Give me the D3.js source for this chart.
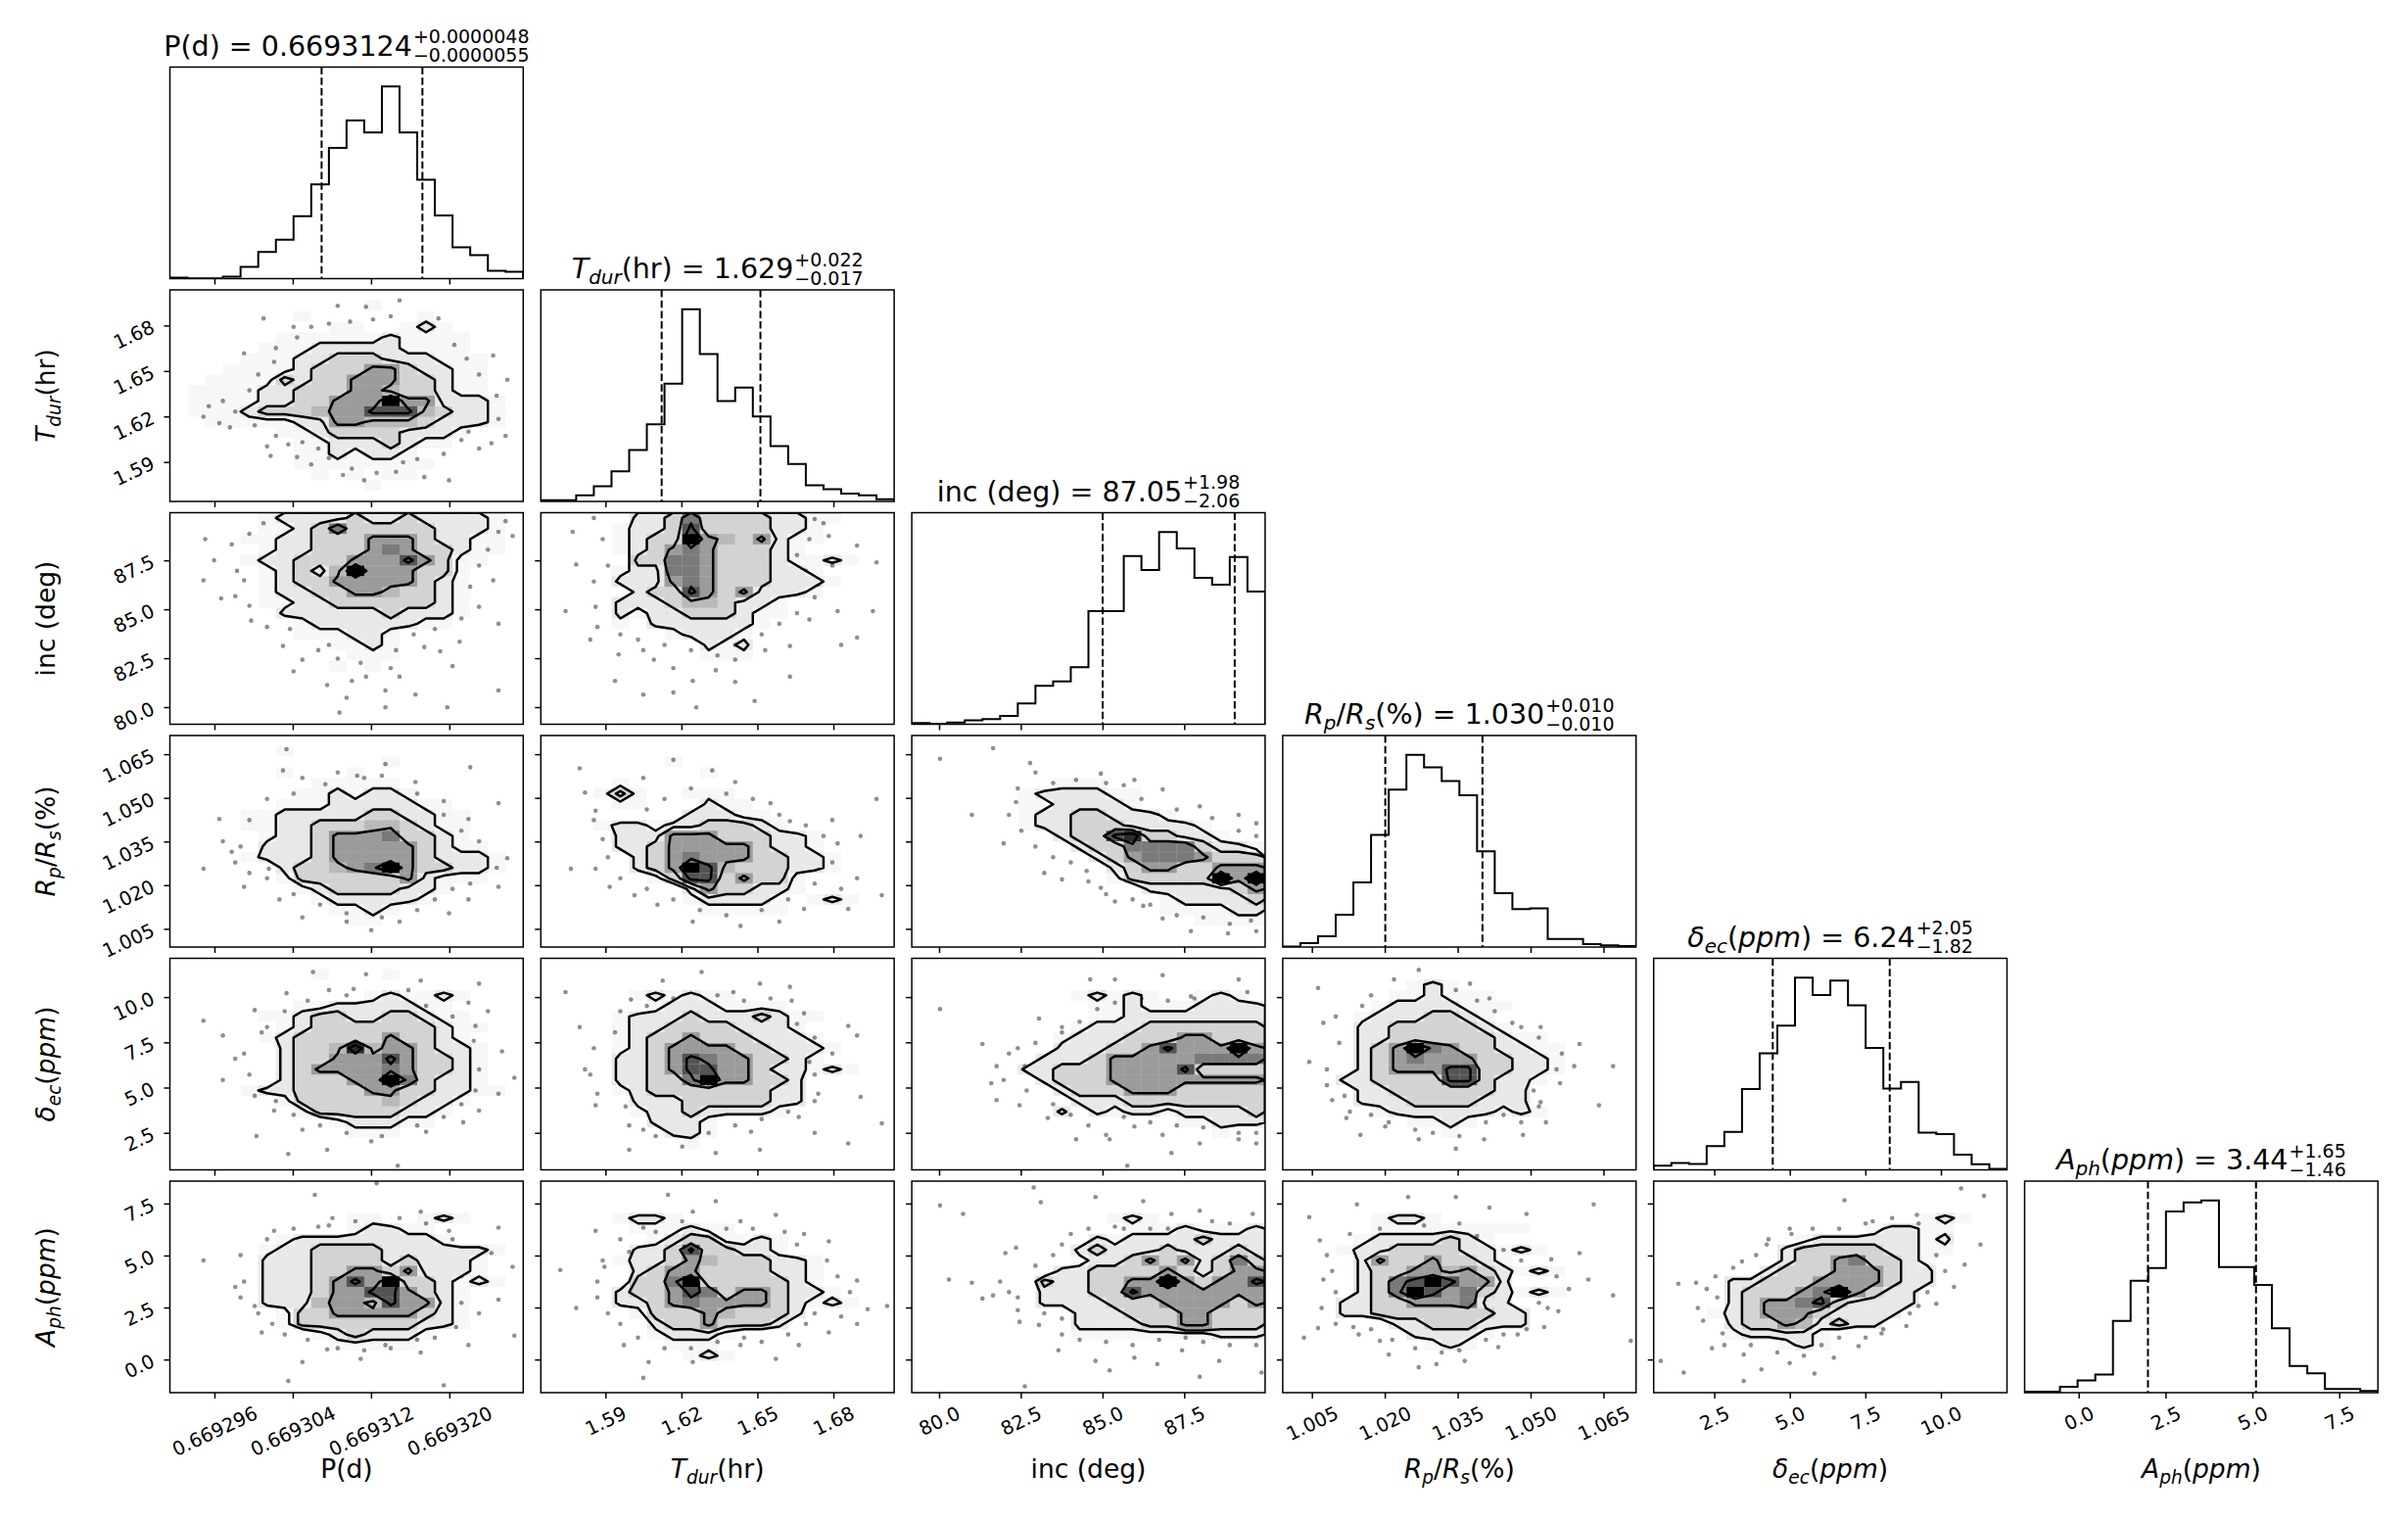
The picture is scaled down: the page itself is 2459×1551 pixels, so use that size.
<!DOCTYPE html>
<html><head><meta charset="utf-8">
<script src="https://cdn.jsdelivr.net/npm/d3@7"></script>
<style>html,body{margin:0;padding:0;background:#fff}svg{display:block}</style>
</head><body>
<svg id="chart" width="2459" height="1551"></svg>
<script>
// ---------------- DATA ----------------
const paramNames = ["P(d)", "Tdur(hr)", "inc (deg)", "Rp/Rs(%)", "dec(ppm)", "Aph(ppm)"];
const axisRanges = [[0.6692914, 0.6693275], [1.5643, 1.7038], [79.15, 89.96], [0.9989, 1.0716], [0.48, 12.17], [-1.57, 8.60]];
const tickValues = [
  [0.669296, 0.669304, 0.669312, 0.669320],
  [1.59, 1.62, 1.65, 1.68],
  [80.0, 82.5, 85.0, 87.5],
  [1.005, 1.020, 1.035, 1.050, 1.065],
  [2.5, 5.0, 7.5, 10.0],
  [0.0, 2.5, 5.0, 7.5]
];
const tickLabels = [
  ["0.669296", "0.669304", "0.669312", "0.669320"],
  ["1.59", "1.62", "1.65", "1.68"],
  ["80.0", "82.5", "85.0", "87.5"],
  ["1.005", "1.020", "1.035", "1.050", "1.065"],
  ["2.5", "5.0", "7.5", "10.0"],
  ["0.0", "2.5", "5.0", "7.5"]
];
const medians = [0.6693124, 1.629, 87.05, 1.030, 6.24, 3.44];
const errPlus = [0.0000048, 0.022, 1.98, 0.010, 2.05, 1.65];
const errMinus = [0.0000055, 0.017, 2.06, 0.010, 1.82, 1.46];
const medianText = ["0.6693124", "1.629", "87.05", "1.030", "6.24", "3.44"];
const plusText = ["+0.0000048", "+0.022", "+1.98", "+0.010", "+2.05", "+1.65"];
const minusText = ["\u22120.0000055", "\u22120.017", "\u22122.06", "\u22120.010", "\u22121.82", "\u22121.46"];

// label pieces: n = upright, i = italic, s = italic subscript
const labelP = [["P(d)", "n"]];
const labelTdur = [["T", "i"], ["dur", "s"], ["(hr)", "n"]];
const labelInc = [["inc (deg)", "n"]];
const labelRp = [["R", "i"], ["p", "s"], ["/", "n"], ["R", "i"], ["s", "s"], ["(%)", "n"]];
const labelDec = [["\u03b4", "i"], ["ec", "s"], ["(", "n"], ["ppm", "i"], [")", "n"]];
const labelAph = [["A", "i"], ["ph", "s"], ["(", "n"], ["ppm", "i"], [")", "n"]];

// 1-D histograms (20 bins over each axis range)
const histP = [3,1,1,6,36,82,120,192,290,402,486,449,591,449,304,194,96,72,24,21];
const histTdur = [3,3,14,35,69,118,177,270,441,338,230,261,195,127,86,37,28,18,14,5];
const histInc = [3,1,4,9,12,19,48,89,99,132,262,262,389,357,445,407,339,323,387,307];
const histRp = [1,9,25,75,150,260,365,446,417,385,352,222,125,88,90,19,19,7,4,2];
const histDec = [13,21,18,73,117,248,358,443,591,537,582,506,375,250,270,114,110,47,17,3];
const histAph = [3,3,18,37,55,218,340,379,551,579,585,382,382,328,196,81,59,11,11,5];

// 2-D densities: 20x20 bins, first string = top row (highest y), values 0..9 relative to the panel peak
const density_Tdur_P = [
"00000000000000000000","00000000000100000000","00000001000000100000","00000000011001210000",
"00000011111121111000","00000111222221111000","00001112233322211100","00011112333553221100",
"00111132335553321100","01111223335543321100","01111223355595522210","01112333455777432210",
"00111112255444322210","00000011233332221000","00000001122232110000","00000001121221000000",
"00000001111111100000","00000000101011000000","00000000000100000000","00000000000000000000"];
const density_inc_P = [
"00000122223223222210","00000112363333322210","00001122333555322110","00000122333565332110",
"00001223335557531100","00000123249555331000","00000123355555321000","00000122335543321000",
"00000112233333321000","00000022222232221000","00000001222222110000","00000001112210000000",
"00000000011210000000","00000000001110000000","00000000010100000000","00000000000000000000",
"00000000000000000000","00000000000000000000","00000000000000000000","00000000000000000000"];
const density_inc_Tdur = [
"00000223633332211000","00001223733332210000","00001233954352110000","00001235653332100000",
"00000336653332112100","00001226653332210000","00002225653332221000","00000233753522210000",
"00002223443221000000","00002122333211000000","00001022222210000000","00000001222100000000",
"00000000021200000000","00000000011100000000","00000000000000000000","00000000000000000000",
"00000000000000000000","00000000000000000000","00000000000000000000","00000000000000000000"];
const density_Rp_P = [
"00000000000000000000","00000010000000000000","00000000000010000000","00000010001000000000",
"00000000111110000000","00000001121221000000","00000011122222110000","00001122222332211000",
"00001122333443211000","00000122355563321000","00000222355555321100","00001222355555322210",
"00000023345695332210","00000013333335211100","00000001233332210000","00000000122222100000",
"00000000011210000000","00000000001100000000","00000000000000000000","00000000000000000000"];
const density_Rp_Tdur = [
"00000000000000000000","00000000000000000000","00000001000000000000","00000000010000000000",
"00001000000000000000","00013100111000000000","00001100021100000000","00000000222110000000",
"00012212233321000000","00002225553332210000","00002235555532210000","00000235655533221000",
"00000235974333221000","00000013773533100000","00000000253322100000","00000000122221012100",
"00000000011111000000","00000000000000000000","00000000000000000000","00000000000000000000"];
const density_Rp_inc = [
"00000000000000000000","00000000000000000000","00000000000000000000","00000000000000000000",
"00000000111000000000","00000012222110000000","00000011222210000000","00000012233222100000",
"00000012233322221000","00000000233783322100","00000000023366663221","00000000002356665333",
"00000000000235533555","00000000000133333959","00000000000002222235","00000000000000122223",
"00000000000000111122","00000000000000001111","00000000000000000000","00000000000000000000"];
const density_dec_P = [
"00000000000000000000","00000000100010000000","00000000000000000000","00000000000121121000",
"00000001122222110000","00000112332233211000","00000012333333321100","00000123333353321000",
"00000023348455322100","00000023355575332100","00000023555565332100","00000023335596322100",
"00001223333553322110","00000013333343221000","00000001333332210000","00000000012221100000",
"00000000001110000000","00000000000000000000","00000000000000000000","00000000000000000000"];
const density_dec_Tdur = [
"00000000000000000000","00000000000000000000","00000000000000000000","00000121211000000000",
"00000012221111000000","00001222322232110000","00001223333222100000","00001233533322210000",
"00001235555332221000","00002235765533210000","00002235775532212100","00002233695533200000",
"00001233333332200000","00000222333332200000","00000122322221000000","00000022210000000000",
"00000002210000000000","00000000100000000000","00000000000000000000","00000000000000000000"];
const density_dec_inc = [
"00000000000000000000","00000000000000000000","00000000000000000000","00000000012121001210",
"00000000001121112222","00000000001122222222","00000000012223333333","00000000122233355333",
"00000000222335755595","00000002223555556666","00000022333555573333","00000002333555555555",
"00000000233355533333","00000000022233333333","00000000202122122223","00000000000000011222",
"00000000000000000100","00000000000000000000","00000000000000000000","00000000000000000000"];
const density_dec_Rp = [
"00000000000000000000","00000000000000000000","00000001210000000000","00000011211100000000",
"00000122221110000000","00001222332100000000","00002233333210000000","00002233333321100000",
"00002359653322110000","00002356555332210000","00002355577332210000","00022333377322100000",
"00002233333322000000","00002223333222000000","00000122222212100000","00000001121000000000",
"00000000010000000000","00000000000000000000","00000000000000000000","00000000000000000000"];
const density_Aph_P = [
"00000000000000000000","00000000000000000000","00000000000000000000","00000000001100121000",
"00000000001221100000","00000012222222210000","00000122333322222210","00000222333323222100",
"00000222335535222100","00000222357593321210","00000222355775321000","00000222455475521000",
"00000013355555321000","00000013333333221000","00000000123222100000","00000000011111000000",
"00000000000000000000","00000000000000000000","00000000000000000000","00000000000000000000"];
const density_Aph_Tdur = [
"00000000000000000000","00000000000000000000","00000000000000000000","00001221000000000000",
"00000111211000000000","00000012331121000000","00000223733221000000","00001223543332210000",
"00000235533332210000","00000336933333210000","00002335763553221000","00002235655553212100",
"00000133354333200000","00000023353332000000","00000012221000000000","00000001110000000000",
"00000000121000000000","00000000000000000000","00000000000000000000","00000000000000000000"];
const density_Aph_inc = [
"00000000000000000000","00000000000000000000","00000000000000000000","00000000000121000000",
"00000000000011121112","00000000002122223222","00000000023222322232","00000000012235352363",
"00000000223333532355","00000003223355953557","00000002223375555555","00000002222333555535",
"00000000022233355333","00000000022223355333","00000000011111111222","00000000000000000000",
"00000000000000000000","00000000000000000000","00000000000000000000","00000000000000000000"];
const density_Aph_Rp = [
"00000000000000000000","00000000000000000000","00000000000000000000","00000122100000000000",
"00000111111111000000","00001222232100000000","00012233332212100000","00002533533210000000",
"00002335545321210000","00002367975520000000","00002369756321210000","00022335556220000000",
"00022333333322000000","00000022333222000000","00000002222100000000","00000000121000000000",
"00000000000000000000","00000000000000000000","00000000000000000000","00000000000000000000"];
const density_Aph_dec = [
"00000000000000000000","00000000000000000000","00000000000000000000","00000000000000012100",
"00000000000012211000","00000000122222212000","00000002333332211000","00000002335633210000",
"00000023335553220000","00002233355553220000","00002333569532200000","00002355673222200000",
"00012355532222000000","00002335423220000000","00001222210000000000","00000001210000000000",
"00000000000000000000","00000000000000000000","00000000000000000000","00000000000000000000"];

// isolated samples outside the contours, in bin coordinates (x from left, y from top, 0..20)
const dots_Tdur_P = "1.9,12.0 2.8,12.6 3.7,11.5 4.2,6.0 5.9,6.8 5.3,2.7 7.5,14.4 8.4,15.0 9.0,15.9 10.3,16.9 11.7,17.3 14.4,17.7 15.8,18.0 16.9,13.4 18.6,12.2 19.1,8.5 18.3,6.2 16.1,5.2 15.2,2.7 11.1,1.6 13.0,1.0 5.7,15.7 6.7,14.6 4.8,12.8 17.5,15.0 13.2,16.3 9.5,1.5 7.0,3.5 3.0,10.5 2.2,11.0 3.4,13.0 4.5,9.5 5.0,8.0 6.0,5.5 7.2,4.5 8.0,3.5 9.0,3.2 10.2,3.0 11.5,2.8 12.5,2.5 16.8,6.5 17.5,8.0 18.5,10.0 19.0,13.8 18.2,14.5 16.5,14.2 15.5,15.5 14.0,16.0 12.8,17.2 11.0,18.0 9.8,17.5 8.0,16.5 7.2,15.8 6.0,13.8 5.5,14.8 17.0,11.8";
const dots_inc_P = "1.9,6.4 3.7,7.9 4.2,6.4 2.9,8.1 5.3,1.0 18.6,1.8 19.4,2.2 18.3,6.4 17.5,8.9 18.6,10.5 16.4,12.2 15.3,13.1 14.4,12.7 12.5,14.7 11.1,15.5 10.3,15.9 8.4,13.0 7.5,13.9 6.4,12.6 12.2,16.8 13.9,17.2 8.9,16.3 15.7,18.4 12.2,18.4 18.6,16.8 4.6,10.2 9.6,18.9 2.5,4.5 3.5,3.0 4.5,2.0 3.8,5.5 4.5,8.8 5.5,10.8 6.8,11.0 9.0,12.5 9.5,13.8 10.8,14.2 12.8,13.0 13.8,11.5 15.0,11.0 16.5,10.0 17.0,7.0 17.5,5.0 18.0,3.5 16.8,2.5 19.0,0.8 2.0,2.5 7.0,15.0 13.0,15.5 16.0,14.5 10.0,17.5";
const dots_inc_Tdur = "1.8,1.8 2.0,4.9 1.4,9.3 3.1,8.9 4.4,13.4 5.8,13.0 6.4,13.9 7.5,14.7 8.6,15.9 9.9,14.9 11.0,13.9 12.7,13.0 14.1,12.6 15.2,10.1 16.8,9.3 17.9,11.8 18.8,9.3 19.0,4.7 17.9,3.1 16.3,2.2 15.5,0.6 15.7,6.8 8.8,18.4 12.1,17.8 14.1,15.5 4.2,15.9 5.8,17.2 3.5,2.5 3.8,5.0 3.0,6.5 3.2,10.8 2.8,12.0 4.5,11.5 5.5,12.0 7.0,12.5 8.5,13.0 10.0,13.5 11.0,12.5 12.5,11.5 13.5,10.5 14.5,9.5 15.5,8.0 15.0,5.5 14.5,4.0 15.2,2.5 16.0,1.0 3.0,0.5 16.5,5.0 17.0,12.5 7.5,17.0 11.0,16.0";
const dots_Rp_P = "1.9,12.6 2.8,7.9 3.7,12.0 5.6,12.6 6.4,3.3 6.6,1.3 8.8,4.6 10.6,3.8 12.2,2.7 13.9,4.4 15.5,6.2 16.9,7.9 18.6,6.4 19.1,11.6 18.6,14.3 16.9,15.5 15.8,16.8 13.0,17.6 11.4,18.4 10.0,17.6 7.5,17.2 6.2,15.5 4.2,14.3 3.0,10.0 17.0,3.0 4.0,10.5 4.5,8.0 5.5,6.0 7.0,5.5 7.5,4.0 9.5,3.5 11.0,4.0 12.0,3.8 14.0,5.5 15.5,7.5 16.5,9.0 17.5,10.0 18.5,12.5 17.0,14.0 16.0,14.5 15.0,15.5 14.0,16.5 12.0,17.2 10.0,16.8 8.5,16.0 7.0,15.0 5.5,13.5 4.5,13.0 3.5,11.0";
const dots_Rp_Tdur = "2.2,3.1 2.5,5.4 3.1,7.1 5.8,4.0 7.5,2.3 9.7,3.3 11.0,4.4 13.0,6.4 14.1,8.1 16.8,10.2 18.1,9.5 17.9,13.5 19.3,15.1 17.4,16.4 14.9,16.4 13.5,17.6 11.3,18.0 8.6,17.6 6.6,16.0 5.3,15.1 3.1,12.6 1.7,12.6 3.9,14.3 19.0,6.0 3.0,8.0 3.5,9.8 3.8,11.5 4.5,13.5 6.0,14.5 7.5,15.5 9.0,16.5 10.5,17.0 12.5,16.5 14.0,15.5 15.5,14.0 16.5,12.0 16.0,9.5 15.0,8.5 13.5,7.5 12.0,6.0 10.5,5.5 8.5,5.0 7.0,6.0 6.0,7.0 16.5,8.0 17.0,14.5";
const dots_Rp_inc = "1.6,2.2 3.4,7.5 4.6,1.2 5.2,10.2 5.9,6.3 6.7,2.6 7.5,13.0 8.5,13.6 9.9,12.8 10.7,14.4 11.5,15.7 13.1,16.1 14.2,17.3 15.8,18.5 17.9,18.7 19.5,18.5 9.3,4.2 10.7,3.6 12.0,4.7 14.2,5.1 16.3,6.7 18.5,7.5 19.5,8.3 12.6,4.2 6.0,5.0 5.5,7.5 6.2,9.0 7.0,10.5 8.0,11.5 9.0,12.0 10.0,13.8 11.0,15.0 12.5,15.5 13.5,16.0 15.0,17.0 16.5,17.2 18.0,17.8 19.2,17.5 8.0,4.5 11.0,4.5 13.0,6.0 15.0,7.0 17.0,7.8 18.5,9.0 19.5,9.5 7.0,3.5";
const dots_dec_P = "1.9,5.9 3.0,7.3 3.7,9.5 4.8,4.9 5.5,6.5 5.9,14.4 4.9,16.8 6.7,18.5 8.9,18.1 11.4,17.3 12.9,19.6 14.5,16.4 16.6,15.5 17.5,14.4 18.6,12.8 19.5,11.3 18.8,8.8 17.3,6.4 16.9,4.2 17.5,2.4 14.2,2.1 11.1,1.5 8.1,1.3 6.6,3.3 7.5,16.2 10.4,2.9 4.5,11.0 4.8,13.0 4.2,9.0 5.2,7.0 6.5,5.0 7.8,4.0 9.0,3.0 10.0,3.5 13.5,3.0 14.5,4.5 16.0,5.5 17.2,7.8 17.5,10.5 17.3,12.5 16.5,13.8 15.5,15.0 14.0,15.8 12.0,16.8 10.0,16.5 8.5,15.8 7.0,14.8 6.0,13.5 18.0,5.0 3.0,11.5";
const dots_dec_Tdur = "1.4,3.2 2.2,6.5 2.5,10.5 3.1,13.9 5.1,3.9 6.9,2.1 9.1,1.3 10.9,3.2 12.4,2.4 14.1,2.7 14.9,5.2 17.4,6.4 17.9,7.3 18.1,13.1 19.3,15.6 17.4,17.5 15.5,16.5 12.4,18.1 9.9,18.4 5.8,16.2 5.0,18.1 14.6,15.0 11.9,16.4 15.7,12.8 3.0,8.5 2.8,11.0 3.2,12.8 4.8,14.0 5.0,15.8 6.5,16.8 8.0,17.8 9.5,16.5 11.0,15.8 12.5,15.2 14.0,14.5 15.5,13.5 15.5,11.0 15.2,9.8 16.5,9.0 15.5,7.5 14.5,6.2 14.2,4.0 13.0,3.8 11.5,4.0 10.0,3.5 7.5,3.8 6.0,4.5 4.5,5.0 4.2,7.0";
const dots_dec_inc = "1.6,4.8 4.0,8.1 4.8,13.4 6.1,13.9 7.2,5.7 8.5,6.5 7.7,15.1 9.3,17.1 11.0,16.7 12.6,15.9 14.2,16.7 14.7,18.4 16.3,17.5 18.5,17.1 19.5,17.5 11.5,2.0 14.2,1.6 15.8,3.6 18.5,2.0 11.2,17.1 6.4,10.2 4.5,11.8 12.2,19.6 10.1,2.0 5.5,9.0 6.0,8.5 7.0,8.0 8.5,7.0 9.5,6.0 10.5,4.8 11.5,4.2 13.0,3.8 14.5,4.0 16.0,3.8 17.5,3.5 19.0,3.2 19.5,16.5 18.5,16.5 16.5,16.0 15.0,15.8 13.5,15.5 12.0,15.0 10.0,15.8 9.0,14.8 8.0,13.8 6.5,12.5 5.2,11.5 4.8,10.2";
const dots_dec_Rp = "2.0,2.8 1.5,9.8 2.3,6.1 2.8,13.4 3.6,15.1 4.4,16.7 6.3,2.0 7.7,1.1 10.6,2.4 11.7,3.8 13.0,6.1 14.6,6.5 16.8,8.1 16.5,10.2 15.7,11.8 14.6,13.6 14.9,15.5 13.6,16.7 11.4,17.1 9.8,18.0 7.7,17.1 5.8,15.9 18.7,10.2 17.9,13.9 3.0,5.5 3.2,8.0 2.5,10.5 2.5,12.0 3.5,13.0 3.8,14.5 5.0,14.8 6.0,15.5 7.5,16.2 8.5,16.5 10.0,16.8 11.5,15.5 12.5,14.8 13.5,15.5 14.5,14.0 14.2,12.5 15.5,10.5 15.8,9.0 14.5,7.5 13.5,6.5 12.0,5.0 11.0,4.0 9.8,3.0 5.0,3.5 4.5,4.5";
const dots_Aph_P = "1.9,7.5 3.7,10.0 4.8,11.8 5.9,4.7 8.4,4.3 8.2,1.3 9.2,3.5 11.7,0.2 14.2,2.9 15.8,4.7 18.6,4.4 19.4,8.1 18.6,11.2 17.5,12.5 19.5,14.6 16.9,15.5 14.2,16.2 12.2,15.5 10.8,16.8 8.9,15.9 6.7,18.9 15.5,19.3 5.2,14.3 7.5,17.1 4.0,7.0 4.2,9.5 4.0,11.0 5.0,12.5 5.8,13.5 6.5,14.5 7.8,15.0 9.5,15.8 11.0,16.0 12.5,15.8 14.0,15.0 15.0,14.8 16.2,13.8 16.5,11.5 16.5,9.0 17.0,7.5 18.2,6.8 16.0,5.5 14.5,4.0 13.0,3.5 10.5,3.8 9.0,4.2 7.0,4.5 5.5,5.5";
const dots_Aph_Tdur = "1.1,8.4 2.0,12.0 3.1,4.7 3.6,8.1 5.0,6.7 5.8,4.4 7.2,1.3 8.6,2.9 9.9,1.9 11.3,3.8 13.3,3.2 14.9,5.0 16.3,5.7 17.9,9.4 18.5,12.1 17.9,13.5 16.3,14.3 14.6,15.5 13.3,16.8 11.3,15.5 8.6,17.1 6.1,17.1 4.7,15.5 5.8,18.6 19.6,11.8 3.5,7.5 3.2,9.5 3.2,11.0 3.8,12.5 4.5,13.5 5.5,14.8 7.0,15.8 8.5,15.8 10.0,15.2 11.5,14.8 12.5,15.2 14.0,14.5 15.0,13.5 15.5,12.5 17.0,12.8 17.5,10.5 16.8,9.0 16.2,7.5 14.5,6.0 13.8,4.8 12.0,4.5 10.5,4.5 8.0,3.8 6.5,4.8 4.5,5.5";
const dots_Aph_inc = "1.6,2.3 2.9,3.1 2.1,9.3 3.4,9.6 4.0,11.1 4.6,10.8 5.3,6.8 5.9,6.3 6.9,0.6 7.3,2.0 6.1,13.3 7.2,13.6 8.3,16.0 10.4,17.0 11.2,17.9 12.6,16.7 13.9,17.3 15.3,16.0 17.4,17.0 16.3,18.5 19.8,18.1 10.4,1.5 13.1,1.9 14.7,3.1 16.3,2.8 19.3,3.1 11.5,4.3 6.4,19.4 5.0,9.5 5.5,10.5 6.0,11.0 6.0,12.2 7.5,12.5 8.5,13.0 8.5,14.5 9.5,15.0 11.0,15.2 12.5,15.5 14.0,15.0 15.5,14.8 16.5,15.2 18.0,15.5 19.5,15.5 8.0,7.0 8.5,6.0 9.0,5.0 10.0,4.5 12.0,4.5 13.5,4.5 14.5,4.5 17.0,3.8 18.0,4.0 7.0,8.0";
const dots_Aph_Rp = "1.5,3.4 2.1,5.6 2.3,9.3 1.2,14.8 2.0,13.9 4.3,14.5 5.5,15.1 6.0,16.4 7.7,17.6 8.7,17.3 10.3,17.0 12.2,15.7 13.3,14.5 15.6,12.3 16.2,10.2 17.3,9.3 18.7,10.8 16.8,6.8 15.2,7.4 13.8,3.1 11.7,2.5 9.8,1.5 7.1,1.5 4.2,2.2 17.6,2.2 19.7,15.1 2.5,7.0 2.8,8.5 3.0,10.5 2.2,12.0 3.0,13.5 4.0,13.8 5.0,14.0 6.2,15.0 7.5,15.8 9.0,16.2 10.0,16.0 11.5,15.0 12.5,14.5 13.8,14.0 14.8,13.8 15.0,12.0 14.5,11.5 15.5,9.0 13.5,7.5 12.5,6.5 11.0,5.2 10.0,4.0 8.0,4.2 5.5,4.5 3.8,5.0";
const dots_Aph_dec = "1.4,9.7 2.4,9.6 3.6,11.0 3.9,14.4 0.4,17.0 1.7,18.1 3.3,15.8 5.1,16.4 6.1,17.8 7.7,17.2 9.1,18.2 10.2,16.7 11.6,15.6 12.9,14.4 14.3,13.7 16.0,11.6 17.6,7.9 18.5,6.0 18.7,1.4 17.4,0.7 14.9,3.2 12.4,3.8 10.8,1.8 7.7,4.5 6.4,6.0 5.0,7.6 5.1,18.9 2.5,12.0 2.8,13.2 3.0,10.2 3.5,9.0 4.5,8.2 5.8,7.0 6.5,5.5 7.8,5.0 9.0,4.5 10.5,4.5 12.0,4.0 13.5,3.5 15.0,4.0 16.0,7.0 16.5,8.5 17.0,10.0 15.5,10.5 15.0,11.8 14.5,12.5 13.0,14.0 12.0,14.8 10.5,14.8 9.5,15.5 8.5,16.5 7.0,16.2 5.5,15.5 4.0,15.5";

// ---------------- assembly ----------------
const labels = [labelP, labelTdur, labelInc, labelRp, labelDec, labelAph];
const hists = [histP, histTdur, histInc, histRp, histDec, histAph];
const panels2d = [
  {row:1,col:0,grid:density_Tdur_P,dots:dots_Tdur_P},
  {row:2,col:0,grid:density_inc_P,dots:dots_inc_P},
  {row:2,col:1,grid:density_inc_Tdur,dots:dots_inc_Tdur},
  {row:3,col:0,grid:density_Rp_P,dots:dots_Rp_P},
  {row:3,col:1,grid:density_Rp_Tdur,dots:dots_Rp_Tdur},
  {row:3,col:2,grid:density_Rp_inc,dots:dots_Rp_inc},
  {row:4,col:0,grid:density_dec_P,dots:dots_dec_P},
  {row:4,col:1,grid:density_dec_Tdur,dots:dots_dec_Tdur},
  {row:4,col:2,grid:density_dec_inc,dots:dots_dec_inc},
  {row:4,col:3,grid:density_dec_Rp,dots:dots_dec_Rp},
  {row:5,col:0,grid:density_Aph_P,dots:dots_Aph_P},
  {row:5,col:1,grid:density_Aph_Tdur,dots:dots_Aph_Tdur},
  {row:5,col:2,grid:density_Aph_inc,dots:dots_Aph_inc},
  {row:5,col:3,grid:density_Aph_Rp,dots:dots_Aph_Rp},
  {row:5,col:4,grid:density_Aph_dec,dots:dots_Aph_dec}
];
const contourLevels = [1.5, 2.5, 4.5, 6.5];

// ---------------- layout / style ----------------
const FONT = "DejaVu Sans";
const L0 = 173.5, CSTEP = 378.8, PW = 360.8, T0 = 68.5, RSTEP = 227.5, PH = 216;
const NB = 20;
const TICK_FS = 19.5, LABEL_FS = 26.5, TITLE_FS = 28.5, SCRIPT_FS = 19;
const ANG = 25 * Math.PI / 180;

const svg = d3.select("#chart");
svg.append("rect").attr("width", 2459).attr("height", 1551).attr("fill", "#fff");
svg.append("defs").append("clipPath").attr("id", "pclip")
  .append("rect").attr("x", 0).attr("y", 0).attr("width", PW).attr("height", PH);

function xScale(i) { return d3.scaleLinear().domain(axisRanges[i]).range([0, PW]); }
function yScale(i) { return d3.scaleLinear().domain(axisRanges[i]).range([PH, 0]); }
function panelG(r, c) { return svg.append("g").attr("transform", `translate(${L0 + c * CSTEP},${T0 + r * RSTEP})`); }

function addRich(textSel, segs, fs) {
  let shifted = false;
  segs.forEach(([t, s]) => {
    const ts = textSel.append("tspan").text(t);
    if (s === "s") {
      ts.attr("font-size", fs * 0.7).attr("font-style", "italic");
      if (!shifted) { ts.attr("dy", fs * 0.22); shifted = true; }
    } else {
      ts.attr("font-size", fs).attr("font-style", s === "i" ? "italic" : "normal");
      if (shifted) { ts.attr("dy", -fs * 0.22); shifted = false; }
    }
  });
}

function drawXTicks(g, c, withLabels) {
  const xs = xScale(c);
  tickValues[c].forEach((v, k) => {
    const px = xs(v);
    g.append("line").attr("x1", px).attr("x2", px).attr("y1", PH).attr("y2", PH + 6)
      .attr("stroke", "#000").attr("stroke-width", 1.5);
    if (withLabels) {
      const t = g.append("text").text(tickLabels[c][k]).attr("font-family", FONT)
        .attr("font-size", TICK_FS).attr("text-anchor", "middle").attr("dominant-baseline", "central");
      const L = t.node().getComputedTextLength();
      const hh = (L * Math.sin(ANG) + 0.73 * TICK_FS * Math.cos(ANG)) / 2;
      t.attr("transform", `translate(${px},${PH + 13.5 + hh}) rotate(-25)`);
    }
  });
}
function drawYTicks(g, r, withLabels) {
  const ys = yScale(r);
  tickValues[r].forEach((v, k) => {
    const py = ys(v);
    g.append("line").attr("x1", -6).attr("x2", 0).attr("y1", py).attr("y2", py)
      .attr("stroke", "#000").attr("stroke-width", 1.5);
    if (withLabels) {
      g.append("text").text(tickLabels[r][k]).attr("font-family", FONT)
        .attr("font-size", TICK_FS).attr("text-anchor", "end").attr("dominant-baseline", "central")
        .attr("transform", `translate(-17,${py}) rotate(-25)`);
    }
  });
}
function frame(g) {
  g.append("rect").attr("width", PW).attr("height", PH).attr("fill", "none")
    .attr("stroke", "#000").attr("stroke-width", 1.5);
}

// ---- diagonal histograms ----
hists.forEach((counts, i) => {
  const g = panelG(i, i);
  const xs = xScale(i);
  const ys = d3.scaleLinear().domain([0, 1.1 * d3.max(counts)]).range([PH, 0]);
  const [a, b] = axisRanges[i];
  const edges = d3.range(NB + 1).map(k => a + k * (b - a) / NB);
  const c = g.append("g").attr("clip-path", "url(#pclip)");
  let d = `M${xs(edges[0])},${ys(0)}`;
  counts.forEach((v, k) => { d += `L${xs(edges[k])},${ys(v)}L${xs(edges[k + 1])},${ys(v)}`; });
  d += `L${xs(edges[NB])},${ys(0)}`;
  c.append("path").attr("d", d).attr("fill", "none").attr("stroke", "#000").attr("stroke-width", 2);
  [medians[i] - errMinus[i], medians[i] + errPlus[i]].forEach(q => {
    c.append("line").attr("x1", xs(q)).attr("x2", xs(q)).attr("y1", 0).attr("y2", PH)
      .attr("stroke", "#000").attr("stroke-width", 2).attr("stroke-dasharray", "7.5,3.2");
  });
  frame(g);
  drawXTicks(g, i, i === 5);
  // title
  const tg = g.append("g");
  const main = tg.append("text").attr("x", 0).attr("y", -12).attr("font-family", FONT).attr("fill", "#000");
  addRich(main, labels[i].concat([[" = " + medianText[i], "n"]]), TITLE_FS);
  const Lm = main.node().getComputedTextLength();
  const sup = tg.append("text").text(plusText[i]).attr("x", Lm + 1).attr("y", -24.5)
    .attr("font-family", FONT).attr("font-size", SCRIPT_FS);
  const sub = tg.append("text").text(minusText[i]).attr("x", Lm + 1).attr("y", -5.2)
    .attr("font-family", FONT).attr("font-size", SCRIPT_FS);
  const total = Lm + 1 + Math.max(sup.node().getComputedTextLength(), sub.node().getComputedTextLength());
  tg.attr("transform", `translate(${PW / 2 - total / 2},0)`);
});

// ---- 2-D panels ----
panels2d.forEach(p => {
  const g = panelG(p.row, p.col);
  const xs = xScale(p.col), ys = yScale(p.row);
  const [xa, xb] = axisRanges[p.col], [ya, yb] = axisRanges[p.row];
  const gx = c => xs(xa + c * (xb - xa) / NB);
  const gy = r => ys(yb - r * (yb - ya) / NB);
  const values = p.grid.flatMap(row => row.split("").map(Number));
  const vmax = d3.max(values);
  const c = g.append("g").attr("clip-path", "url(#pclip)");
  // scattered samples
  p.dots.trim().split(/\s+/).forEach(s => {
    const [bx, by] = s.split(",").map(Number);
    c.append("circle").attr("cx", gx(bx)).attr("cy", gy(by)).attr("r", 2.3)
      .attr("fill", "#444").attr("fill-opacity", 0.6);
  });
  const contours = d3.contours().size([NB, NB]).thresholds(contourLevels)(values);
  const path = d3.geoPath(d3.geoTransform({ point(x, y) { this.stream.point(gx(x), gy(y)); } }));
  // white fill inside the outermost level
  c.append("path").attr("d", path(contours[0])).attr("fill", "#fff").attr("fill-rule", "evenodd");
  // density cells (black with opacity growing with density)
  values.forEach((v, k) => {
    if (v <= 0) return;
    const col = k % NB, row = Math.floor(k / NB);
    const f = v / vmax;
    c.append("rect").attr("x", gx(col)).attr("y", gy(row))
      .attr("width", gx(col + 1) - gx(col)).attr("height", gy(row + 1) - gy(row))
      .attr("fill", "#000").attr("fill-opacity", Math.pow(f, 1.6));
  });
  // contour lines
  contours.forEach(ct => {
    c.append("path").attr("d", path(ct)).attr("fill", "none").attr("stroke", "#000")
      .attr("stroke-width", 2.5).attr("stroke-linejoin", "round");
  });
  frame(g);
  drawXTicks(g, p.col, p.row === 5);
  drawYTicks(g, p.row, p.col === 0);
});

// ---- axis labels ----
labels.forEach((segs, i) => {
  const t = svg.append("text").attr("font-family", FONT).attr("text-anchor", "middle")
    .attr("x", L0 + i * CSTEP + PW / 2).attr("y", T0 + 5 * RSTEP + PH + 86.8);
  addRich(t, segs, LABEL_FS);
});
labels.forEach((segs, i) => {
  if (i === 0) return;
  const t = svg.append("text").attr("font-family", FONT).attr("text-anchor", "middle")
    .attr("transform", `translate(56,${T0 + i * RSTEP + PH / 2}) rotate(-90)`);
  addRich(t, segs, LABEL_FS);
});
</script>
</body></html>
